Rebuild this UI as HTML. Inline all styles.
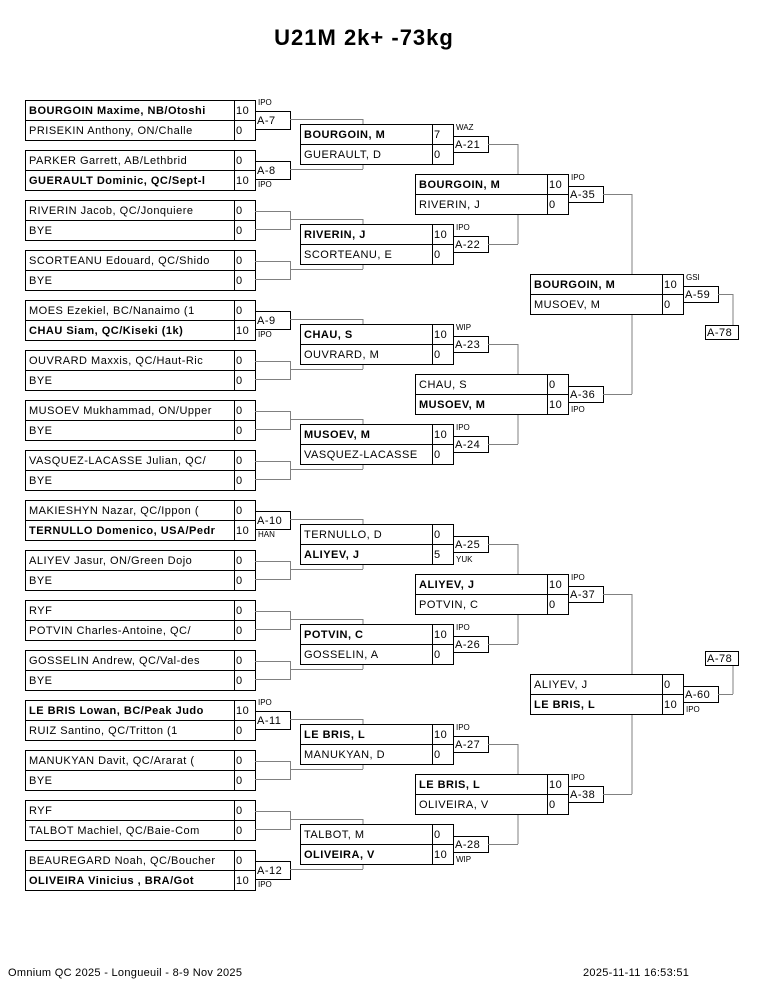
<!DOCTYPE html>
<html><head><meta charset="utf-8"><style>
html,body{margin:0;padding:0;background:#fff;}
svg{display:block;font-family:"Liberation Sans",sans-serif;}
.bx{fill:#fff;stroke:#000;stroke-width:1;}
.ln{stroke:#000;stroke-width:1;}
.cn{stroke:#808080;stroke-width:1;fill:none;}
.n{font-size:11px;letter-spacing:0.5px;fill:#000;}
.b{font-weight:bold;}
.t{font-size:8px;fill:#000;}
.f{font-size:11px;letter-spacing:0.3px;}
</style></head><body>
<svg width="765" height="990" viewBox="0 0 765 990" xmlns="http://www.w3.org/2000/svg">
<text x="364" y="45" text-anchor="middle" style="font-size:22px;font-weight:bold;letter-spacing:1px">U21M 2k+ -73kg</text>

<path class="cn" d="M363,119V124M363,169V164M363,219V224M363,269V264M363,319V324M363,369V364M363,419V424M363,469V464M363,519V524M363,569V564M363,619V624M363,669V664M363,719V724M363,769V764M363,819V824M363,869V864"/>
<path class="cn" d="M518,144V174M518,244V214M518,344V374M518,444V414M518,544V574M518,644V614M518,744V774M518,844V814"/>
<path class="cn" d="M632,194V274M632,394V314M632,594V674M632,794V714"/>
<path class="cn" d="M733,294V325M733,694V666"/>

<g transform="translate(0,100)"><rect class="bx" x="25.5" y="0.5" width="230" height="40"/><line class="ln" x1="25" y1="20.5" x2="255" y2="20.5"/><line class="ln" x1="234.5" y1="0" x2="234.5" y2="40"/>
<text class="n b" x="29" y="14">BOURGOIN Maxime, NB/Otoshi</text><text class="n" x="29" y="34">PRISEKIN Anthony, ON/Challe</text><text class="n" x="236" y="14">10</text><text class="n" x="236" y="34">0</text>
<rect class="bx" x="255.5" y="11.5" width="35" height="18"/><text class="n" x="257" y="24">A-7</text><text class="t" x="258" y="5">IPO</text><line class="cn" x1="290" y1="19.5" x2="363" y2="19.5"/></g>

<g transform="translate(0,150)"><rect class="bx" x="25.5" y="0.5" width="230" height="40"/><line class="ln" x1="25" y1="20.5" x2="255" y2="20.5"/><line class="ln" x1="234.5" y1="0" x2="234.5" y2="40"/>
<text class="n" x="29" y="14">PARKER Garrett, AB/Lethbrid</text><text class="n b" x="29" y="34">GUERAULT Dominic, QC/Sept-l</text><text class="n" x="236" y="14">0</text><text class="n" x="236" y="34">10</text>
<rect class="bx" x="255.5" y="11.5" width="35" height="18"/><text class="n" x="257" y="24">A-8</text><text class="t" x="258" y="37">IPO</text><line class="cn" x1="290" y1="19.5" x2="363" y2="19.5"/></g>

<g transform="translate(0,200)"><rect class="bx" x="25.5" y="0.5" width="230" height="40"/><line class="ln" x1="25" y1="20.5" x2="255" y2="20.5"/><line class="ln" x1="234.5" y1="0" x2="234.5" y2="40"/>
<text class="n" x="29" y="14">RIVERIN Jacob, QC/Jonquiere</text><text class="n" x="29" y="34">BYE</text><text class="n" x="236" y="14">0</text><text class="n" x="236" y="34">0</text>
<path class="cn" d="M255,11.5H290.5V29.5H255M290,19.5H363"/></g>

<g transform="translate(0,250)"><rect class="bx" x="25.5" y="0.5" width="230" height="40"/><line class="ln" x1="25" y1="20.5" x2="255" y2="20.5"/><line class="ln" x1="234.5" y1="0" x2="234.5" y2="40"/>
<text class="n" x="29" y="14">SCORTEANU Edouard, QC/Shido</text><text class="n" x="29" y="34">BYE</text><text class="n" x="236" y="14">0</text><text class="n" x="236" y="34">0</text>
<path class="cn" d="M255,11.5H290.5V29.5H255M290,19.5H363"/></g>

<g transform="translate(0,300)"><rect class="bx" x="25.5" y="0.5" width="230" height="40"/><line class="ln" x1="25" y1="20.5" x2="255" y2="20.5"/><line class="ln" x1="234.5" y1="0" x2="234.5" y2="40"/>
<text class="n" x="29" y="14">MOES Ezekiel, BC/Nanaimo (1</text><text class="n b" x="29" y="34">CHAU Siam, QC/Kiseki (1k)</text><text class="n" x="236" y="14">0</text><text class="n" x="236" y="34">10</text>
<rect class="bx" x="255.5" y="11.5" width="35" height="18"/><text class="n" x="257" y="24">A-9</text><text class="t" x="258" y="37">IPO</text><line class="cn" x1="290" y1="19.5" x2="363" y2="19.5"/></g>

<g transform="translate(0,350)"><rect class="bx" x="25.5" y="0.5" width="230" height="40"/><line class="ln" x1="25" y1="20.5" x2="255" y2="20.5"/><line class="ln" x1="234.5" y1="0" x2="234.5" y2="40"/>
<text class="n" x="29" y="14">OUVRARD Maxxis, QC/Haut-Ric</text><text class="n" x="29" y="34">BYE</text><text class="n" x="236" y="14">0</text><text class="n" x="236" y="34">0</text>
<path class="cn" d="M255,11.5H290.5V29.5H255M290,19.5H363"/></g>

<g transform="translate(0,400)"><rect class="bx" x="25.5" y="0.5" width="230" height="40"/><line class="ln" x1="25" y1="20.5" x2="255" y2="20.5"/><line class="ln" x1="234.5" y1="0" x2="234.5" y2="40"/>
<text class="n" x="29" y="14">MUSOEV Mukhammad, ON/Upper</text><text class="n" x="29" y="34">BYE</text><text class="n" x="236" y="14">0</text><text class="n" x="236" y="34">0</text>
<path class="cn" d="M255,11.5H290.5V29.5H255M290,19.5H363"/></g>

<g transform="translate(0,450)"><rect class="bx" x="25.5" y="0.5" width="230" height="40"/><line class="ln" x1="25" y1="20.5" x2="255" y2="20.5"/><line class="ln" x1="234.5" y1="0" x2="234.5" y2="40"/>
<text class="n" x="29" y="14">VASQUEZ-LACASSE Julian, QC/</text><text class="n" x="29" y="34">BYE</text><text class="n" x="236" y="14">0</text><text class="n" x="236" y="34">0</text>
<path class="cn" d="M255,11.5H290.5V29.5H255M290,19.5H363"/></g>

<g transform="translate(0,500)"><rect class="bx" x="25.5" y="0.5" width="230" height="40"/><line class="ln" x1="25" y1="20.5" x2="255" y2="20.5"/><line class="ln" x1="234.5" y1="0" x2="234.5" y2="40"/>
<text class="n" x="29" y="14">MAKIESHYN Nazar, QC/Ippon (</text><text class="n b" x="29" y="34">TERNULLO Domenico, USA/Pedr</text><text class="n" x="236" y="14">0</text><text class="n" x="236" y="34">10</text>
<rect class="bx" x="255.5" y="11.5" width="35" height="18"/><text class="n" x="257" y="24">A-10</text><text class="t" x="258" y="37">HAN</text><line class="cn" x1="290" y1="19.5" x2="363" y2="19.5"/></g>

<g transform="translate(0,550)"><rect class="bx" x="25.5" y="0.5" width="230" height="40"/><line class="ln" x1="25" y1="20.5" x2="255" y2="20.5"/><line class="ln" x1="234.5" y1="0" x2="234.5" y2="40"/>
<text class="n" x="29" y="14">ALIYEV Jasur, ON/Green Dojo</text><text class="n" x="29" y="34">BYE</text><text class="n" x="236" y="14">0</text><text class="n" x="236" y="34">0</text>
<path class="cn" d="M255,11.5H290.5V29.5H255M290,19.5H363"/></g>

<g transform="translate(0,600)"><rect class="bx" x="25.5" y="0.5" width="230" height="40"/><line class="ln" x1="25" y1="20.5" x2="255" y2="20.5"/><line class="ln" x1="234.5" y1="0" x2="234.5" y2="40"/>
<text class="n" x="29" y="14">RYF</text><text class="n" x="29" y="34">POTVIN Charles-Antoine, QC/</text><text class="n" x="236" y="14">0</text><text class="n" x="236" y="34">0</text>
<path class="cn" d="M255,11.5H290.5V29.5H255M290,19.5H363"/></g>

<g transform="translate(0,650)"><rect class="bx" x="25.5" y="0.5" width="230" height="40"/><line class="ln" x1="25" y1="20.5" x2="255" y2="20.5"/><line class="ln" x1="234.5" y1="0" x2="234.5" y2="40"/>
<text class="n" x="29" y="14">GOSSELIN Andrew, QC/Val-des</text><text class="n" x="29" y="34">BYE</text><text class="n" x="236" y="14">0</text><text class="n" x="236" y="34">0</text>
<path class="cn" d="M255,11.5H290.5V29.5H255M290,19.5H363"/></g>

<g transform="translate(0,700)"><rect class="bx" x="25.5" y="0.5" width="230" height="40"/><line class="ln" x1="25" y1="20.5" x2="255" y2="20.5"/><line class="ln" x1="234.5" y1="0" x2="234.5" y2="40"/>
<text class="n b" x="29" y="14">LE BRIS Lowan, BC/Peak Judo</text><text class="n" x="29" y="34">RUIZ Santino, QC/Tritton (1</text><text class="n" x="236" y="14">10</text><text class="n" x="236" y="34">0</text>
<rect class="bx" x="255.5" y="11.5" width="35" height="18"/><text class="n" x="257" y="24">A-11</text><text class="t" x="258" y="5">IPO</text><line class="cn" x1="290" y1="19.5" x2="363" y2="19.5"/></g>

<g transform="translate(0,750)"><rect class="bx" x="25.5" y="0.5" width="230" height="40"/><line class="ln" x1="25" y1="20.5" x2="255" y2="20.5"/><line class="ln" x1="234.5" y1="0" x2="234.5" y2="40"/>
<text class="n" x="29" y="14">MANUKYAN Davit, QC/Ararat (</text><text class="n" x="29" y="34">BYE</text><text class="n" x="236" y="14">0</text><text class="n" x="236" y="34">0</text>
<path class="cn" d="M255,11.5H290.5V29.5H255M290,19.5H363"/></g>

<g transform="translate(0,800)"><rect class="bx" x="25.5" y="0.5" width="230" height="40"/><line class="ln" x1="25" y1="20.5" x2="255" y2="20.5"/><line class="ln" x1="234.5" y1="0" x2="234.5" y2="40"/>
<text class="n" x="29" y="14">RYF</text><text class="n" x="29" y="34">TALBOT Machiel, QC/Baie-Com</text><text class="n" x="236" y="14">0</text><text class="n" x="236" y="34">0</text>
<path class="cn" d="M255,11.5H290.5V29.5H255M290,19.5H363"/></g>

<g transform="translate(0,850)"><rect class="bx" x="25.5" y="0.5" width="230" height="40"/><line class="ln" x1="25" y1="20.5" x2="255" y2="20.5"/><line class="ln" x1="234.5" y1="0" x2="234.5" y2="40"/>
<text class="n" x="29" y="14">BEAUREGARD Noah, QC/Boucher</text><text class="n b" x="29" y="34">OLIVEIRA Vinicius , BRA/Got</text><text class="n" x="236" y="14">0</text><text class="n" x="236" y="34">10</text>
<rect class="bx" x="255.5" y="11.5" width="35" height="18"/><text class="n" x="257" y="24">A-12</text><text class="t" x="258" y="37">IPO</text><line class="cn" x1="290" y1="19.5" x2="363" y2="19.5"/></g>

<g transform="translate(0,124)"><rect class="bx" x="300.5" y="0.5" width="153" height="40"/><line class="ln" x1="300" y1="20.5" x2="453" y2="20.5"/><line class="ln" x1="432.5" y1="0" x2="432.5" y2="40"/>
<text class="n b" x="304" y="14">BOURGOIN, M</text><text class="n" x="304" y="34">GUERAULT, D</text><text class="n" x="434" y="14">7</text><text class="n" x="434" y="34">0</text>
<rect class="bx" x="453.5" y="12.5" width="35" height="16"/><text class="n" x="455" y="24">A-21</text><text class="t" x="456" y="6">WAZ</text><line class="cn" x1="488" y1="20.5" x2="518" y2="20.5"/></g>

<g transform="translate(0,224)"><rect class="bx" x="300.5" y="0.5" width="153" height="40"/><line class="ln" x1="300" y1="20.5" x2="453" y2="20.5"/><line class="ln" x1="432.5" y1="0" x2="432.5" y2="40"/>
<text class="n b" x="304" y="14">RIVERIN, J</text><text class="n" x="304" y="34">SCORTEANU, E</text><text class="n" x="434" y="14">10</text><text class="n" x="434" y="34">0</text>
<rect class="bx" x="453.5" y="12.5" width="35" height="16"/><text class="n" x="455" y="24">A-22</text><text class="t" x="456" y="6">IPO</text><line class="cn" x1="488" y1="20.5" x2="518" y2="20.5"/></g>

<g transform="translate(0,324)"><rect class="bx" x="300.5" y="0.5" width="153" height="40"/><line class="ln" x1="300" y1="20.5" x2="453" y2="20.5"/><line class="ln" x1="432.5" y1="0" x2="432.5" y2="40"/>
<text class="n b" x="304" y="14">CHAU, S</text><text class="n" x="304" y="34">OUVRARD, M</text><text class="n" x="434" y="14">10</text><text class="n" x="434" y="34">0</text>
<rect class="bx" x="453.5" y="12.5" width="35" height="16"/><text class="n" x="455" y="24">A-23</text><text class="t" x="456" y="6">WIP</text><line class="cn" x1="488" y1="20.5" x2="518" y2="20.5"/></g>

<g transform="translate(0,424)"><rect class="bx" x="300.5" y="0.5" width="153" height="40"/><line class="ln" x1="300" y1="20.5" x2="453" y2="20.5"/><line class="ln" x1="432.5" y1="0" x2="432.5" y2="40"/>
<text class="n b" x="304" y="14">MUSOEV, M</text><text class="n" x="304" y="34">VASQUEZ-LACASSE</text><text class="n" x="434" y="14">10</text><text class="n" x="434" y="34">0</text>
<rect class="bx" x="453.5" y="12.5" width="35" height="16"/><text class="n" x="455" y="24">A-24</text><text class="t" x="456" y="6">IPO</text><line class="cn" x1="488" y1="20.5" x2="518" y2="20.5"/></g>

<g transform="translate(0,524)"><rect class="bx" x="300.5" y="0.5" width="153" height="40"/><line class="ln" x1="300" y1="20.5" x2="453" y2="20.5"/><line class="ln" x1="432.5" y1="0" x2="432.5" y2="40"/>
<text class="n" x="304" y="14">TERNULLO, D</text><text class="n b" x="304" y="34">ALIYEV, J</text><text class="n" x="434" y="14">0</text><text class="n" x="434" y="34">5</text>
<rect class="bx" x="453.5" y="12.5" width="35" height="16"/><text class="n" x="455" y="24">A-25</text><text class="t" x="456" y="38">YUK</text><line class="cn" x1="488" y1="20.5" x2="518" y2="20.5"/></g>

<g transform="translate(0,624)"><rect class="bx" x="300.5" y="0.5" width="153" height="40"/><line class="ln" x1="300" y1="20.5" x2="453" y2="20.5"/><line class="ln" x1="432.5" y1="0" x2="432.5" y2="40"/>
<text class="n b" x="304" y="14">POTVIN, C</text><text class="n" x="304" y="34">GOSSELIN, A</text><text class="n" x="434" y="14">10</text><text class="n" x="434" y="34">0</text>
<rect class="bx" x="453.5" y="12.5" width="35" height="16"/><text class="n" x="455" y="24">A-26</text><text class="t" x="456" y="6">IPO</text><line class="cn" x1="488" y1="20.5" x2="518" y2="20.5"/></g>

<g transform="translate(0,724)"><rect class="bx" x="300.5" y="0.5" width="153" height="40"/><line class="ln" x1="300" y1="20.5" x2="453" y2="20.5"/><line class="ln" x1="432.5" y1="0" x2="432.5" y2="40"/>
<text class="n b" x="304" y="14">LE BRIS, L</text><text class="n" x="304" y="34">MANUKYAN, D</text><text class="n" x="434" y="14">10</text><text class="n" x="434" y="34">0</text>
<rect class="bx" x="453.5" y="12.5" width="35" height="16"/><text class="n" x="455" y="24">A-27</text><text class="t" x="456" y="6">IPO</text><line class="cn" x1="488" y1="20.5" x2="518" y2="20.5"/></g>

<g transform="translate(0,824)"><rect class="bx" x="300.5" y="0.5" width="153" height="40"/><line class="ln" x1="300" y1="20.5" x2="453" y2="20.5"/><line class="ln" x1="432.5" y1="0" x2="432.5" y2="40"/>
<text class="n" x="304" y="14">TALBOT, M</text><text class="n b" x="304" y="34">OLIVEIRA, V</text><text class="n" x="434" y="14">0</text><text class="n" x="434" y="34">10</text>
<rect class="bx" x="453.5" y="12.5" width="35" height="16"/><text class="n" x="455" y="24">A-28</text><text class="t" x="456" y="38">WIP</text><line class="cn" x1="488" y1="20.5" x2="518" y2="20.5"/></g>

<g transform="translate(0,174)"><rect class="bx" x="415.5" y="0.5" width="153" height="40"/><line class="ln" x1="415" y1="20.5" x2="568" y2="20.5"/><line class="ln" x1="547.5" y1="0" x2="547.5" y2="40"/>
<text class="n b" x="419" y="14">BOURGOIN, M</text><text class="n" x="419" y="34">RIVERIN, J</text><text class="n" x="549" y="14">10</text><text class="n" x="549" y="34">0</text>
<rect class="bx" x="568.5" y="12.5" width="35" height="16"/><text class="n" x="570" y="24">A-35</text><text class="t" x="571" y="6">IPO</text><line class="cn" x1="603" y1="20.5" x2="632" y2="20.5"/></g>

<g transform="translate(0,374)"><rect class="bx" x="415.5" y="0.5" width="153" height="40"/><line class="ln" x1="415" y1="20.5" x2="568" y2="20.5"/><line class="ln" x1="547.5" y1="0" x2="547.5" y2="40"/>
<text class="n" x="419" y="14">CHAU, S</text><text class="n b" x="419" y="34">MUSOEV, M</text><text class="n" x="549" y="14">0</text><text class="n" x="549" y="34">10</text>
<rect class="bx" x="568.5" y="12.5" width="35" height="16"/><text class="n" x="570" y="24">A-36</text><text class="t" x="571" y="38">IPO</text><line class="cn" x1="603" y1="20.5" x2="632" y2="20.5"/></g>

<g transform="translate(0,574)"><rect class="bx" x="415.5" y="0.5" width="153" height="40"/><line class="ln" x1="415" y1="20.5" x2="568" y2="20.5"/><line class="ln" x1="547.5" y1="0" x2="547.5" y2="40"/>
<text class="n b" x="419" y="14">ALIYEV, J</text><text class="n" x="419" y="34">POTVIN, C</text><text class="n" x="549" y="14">10</text><text class="n" x="549" y="34">0</text>
<rect class="bx" x="568.5" y="12.5" width="35" height="16"/><text class="n" x="570" y="24">A-37</text><text class="t" x="571" y="6">IPO</text><line class="cn" x1="603" y1="20.5" x2="632" y2="20.5"/></g>

<g transform="translate(0,774)"><rect class="bx" x="415.5" y="0.5" width="153" height="40"/><line class="ln" x1="415" y1="20.5" x2="568" y2="20.5"/><line class="ln" x1="547.5" y1="0" x2="547.5" y2="40"/>
<text class="n b" x="419" y="14">LE BRIS, L</text><text class="n" x="419" y="34">OLIVEIRA, V</text><text class="n" x="549" y="14">10</text><text class="n" x="549" y="34">0</text>
<rect class="bx" x="568.5" y="12.5" width="35" height="16"/><text class="n" x="570" y="24">A-38</text><text class="t" x="571" y="6">IPO</text><line class="cn" x1="603" y1="20.5" x2="632" y2="20.5"/></g>

<g transform="translate(0,274)"><rect class="bx" x="530.5" y="0.5" width="153" height="40"/><line class="ln" x1="530" y1="20.5" x2="683" y2="20.5"/><line class="ln" x1="662.5" y1="0" x2="662.5" y2="40"/>
<text class="n b" x="534" y="14">BOURGOIN, M</text><text class="n" x="534" y="34">MUSOEV, M</text><text class="n" x="664" y="14">10</text><text class="n" x="664" y="34">0</text>
<rect class="bx" x="683.5" y="12.5" width="35" height="16"/><text class="n" x="685" y="24">A-59</text><text class="t" x="686" y="6">GSI</text><line class="cn" x1="718" y1="20.5" x2="733" y2="20.5"/></g>
<rect class="bx" x="705.5" y="325.5" width="33" height="14"/><text class="n" x="707" y="336">A-78</text>

<g transform="translate(0,674)"><rect class="bx" x="530.5" y="0.5" width="153" height="40"/><line class="ln" x1="530" y1="20.5" x2="683" y2="20.5"/><line class="ln" x1="662.5" y1="0" x2="662.5" y2="40"/>
<text class="n" x="534" y="14">ALIYEV, J</text><text class="n b" x="534" y="34">LE BRIS, L</text><text class="n" x="664" y="14">0</text><text class="n" x="664" y="34">10</text>
<rect class="bx" x="683.5" y="12.5" width="35" height="16"/><text class="n" x="685" y="24">A-60</text><text class="t" x="686" y="38">IPO</text><line class="cn" x1="718" y1="20.5" x2="733" y2="20.5"/></g>
<rect class="bx" x="705.5" y="651.5" width="33" height="14"/><text class="n" x="707" y="662">A-78</text>

<text class="f" x="8" y="976">Omnium QC 2025 - Longueuil - 8-9 Nov 2025</text>
<text class="f" x="583" y="976">2025-11-11 16:53:51</text>
</svg>
</body></html>
